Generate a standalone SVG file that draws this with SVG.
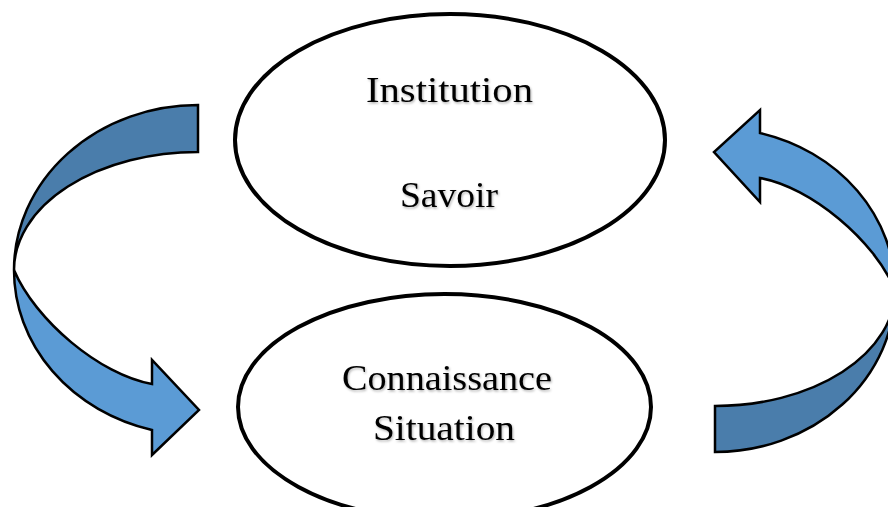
<svg xmlns="http://www.w3.org/2000/svg" width="888" height="507" viewBox="0 0 888 507">
  <style>
    .node { fill: #ffffff; stroke: #000000; stroke-width: 4; }
    .lbl { font-family: "Liberation Serif", "DejaVu Serif", serif; font-size: 36px; fill: #000000; text-anchor: middle; filter: url(#shadow); }
    .back { fill: #4A7DAB; stroke: #000000; stroke-width: 2.5; stroke-linejoin: miter; }
    .front { fill: #5B9BD5; stroke: #000000; stroke-width: 2.5; stroke-linejoin: miter; }
  </style>
  <defs>
    <filter id="shadow" x="-10%" y="-20%" width="120%" height="150%">
      <feDropShadow dx="1" dy="1.5" stdDeviation="1" flood-color="#000000" flood-opacity="0.3"/>
    </filter>
  </defs>
  <rect x="0" y="0" width="888" height="507" fill="#ffffff"/>

  <g id="connectors">
    <g id="arrow-left">
      <path class="back" d="M198,105 L198,152 A184,118 0 0 0 14,270 A184,165 0 0 1 198,105 Z"/>
      <path class="front" d="M14,270 A184,165 0 0 0 152,430 L152,455 L199,410 L152,360 L152,384 C100,375 35,320 14,270 Z"/>
    </g>
    <g id="arrow-right">
      <path class="back" d="M715,452 L715,406 A180,116 0 0 0 895,290 A180,162 0 0 1 715,452 Z"/>
      <path class="front" d="M895,290 A180,162 0 0 0 760,133 L760,110 L714,152 L760,202 L760,178 C811,187 875,241 895,290 Z"/>
    </g>
  </g>

  <g id="node-institution">
    <ellipse class="node" cx="450" cy="140" rx="215" ry="126"/>
    <text class="lbl" x="449.5" y="102" textLength="167" lengthAdjust="spacingAndGlyphs">Institution</text>
    <text class="lbl" x="449" y="207" textLength="98" lengthAdjust="spacingAndGlyphs">Savoir</text>
  </g>

  <g id="node-connaissance">
    <ellipse class="node" cx="444.5" cy="407" rx="206.5" ry="113"/>
    <text class="lbl" x="447" y="390" textLength="210" lengthAdjust="spacingAndGlyphs">Connaissance</text>
    <text class="lbl" x="444" y="440" textLength="142" lengthAdjust="spacingAndGlyphs">Situation</text>
  </g>
</svg>
